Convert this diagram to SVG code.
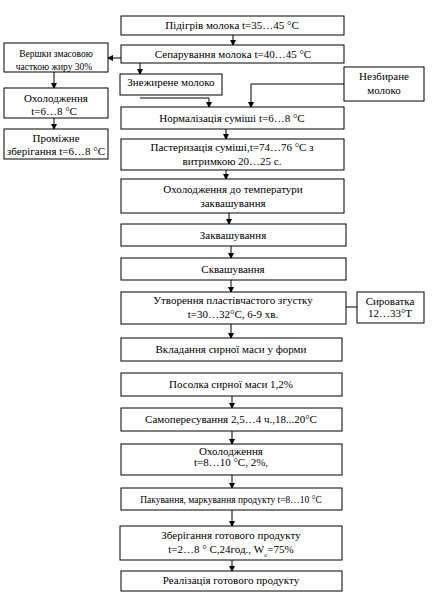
<svg xmlns="http://www.w3.org/2000/svg" width="432" height="596" viewBox="0 0 432 596">
<defs>
<marker id="ah" markerWidth="6" markerHeight="6" refX="5" refY="3" orient="auto" markerUnits="userSpaceOnUse">
<path d="M0,0 L6,3 L0,6 z" fill="#000"/>
</marker>
<style>
.b{fill:#fff;stroke:#000;stroke-width:1}
.t{font-size:11px;fill:#000;text-anchor:middle}
.s{font-size:9.5px}
.c{fill:none;stroke:#000;stroke-width:1}
.a{marker-end:url(#ah)}
</style>
</defs>
<rect width="432" height="596" fill="#fff"/>
<g id="connectors">
<path class="c a" d="M233,35 V45"/>
<path class="c a" d="M121,58 H108"/>
<path class="c a" d="M140,63 V74"/>
<path class="c a" d="M140,98 H209 V107"/>
<path class="c a" d="M344,84 H251 V107"/>
<path class="c a" d="M54,72 V88"/>
<path class="c a" d="M54,118 V129"/>
<path class="c a" d="M226,129 V139"/>
<path class="c a" d="M226,170 V179"/>
<path class="c a" d="M229,213 V224"/>
<path class="c a" d="M231,246 V258"/>
<path class="c a" d="M231,280 V292"/>
<path class="c" d="M346,307 H357"/>
<path class="c a" d="M231,324 V338"/>
<path class="c a" d="M232,396 V408"/>
<path class="c a" d="M232,431 V444"/>
<path class="c a" d="M232,475 V488"/>
<path class="c a" d="M232,510 V526"/>
<path class="c a" d="M232,560 V571"/>
</g>
<g font-family="Liberation Serif, DejaVu Serif, serif">
<g id="n1"><rect class="b" x="121" y="16" width="223" height="19"/><text class="t" x="232" y="29">Підігрів молока t=35…45 °C</text></g>
<g id="n2"><rect class="b" x="121" y="45" width="223" height="18"/><text class="t" x="233" y="58">Сепарування молока t=40…45 °C</text></g>
<g id="n3"><rect class="b" x="4" y="43" width="104" height="29"/><text class="t s" x="56" y="57">Вершки змасовою</text><text class="t s" x="54" y="70">часткою жиру 30%</text></g>
<g id="n4"><rect class="b" x="120" y="74" width="102" height="21"/><text class="t" x="171" y="86">Знежирене молоко</text></g>
<g id="n5"><rect class="b" x="344" y="67" width="80" height="34"/><text class="t" x="384" y="80">Незбиране</text><text class="t" x="384" y="94">молоко</text></g>
<g id="n6"><rect class="b" x="4" y="88" width="104" height="30"/><text class="t" x="56" y="102">Охолодження</text><text class="t" x="54" y="115">t=6…8 °C</text></g>
<g id="n7"><rect class="b" x="121" y="107" width="223" height="22"/><text class="t" x="232" y="122">Нормалізація суміші t=6…8 °C</text></g>
<g id="n8"><rect class="b" x="4" y="129" width="104" height="30"/><text class="t" x="56" y="142">Проміжне</text><text class="t" x="56" y="155">зберігання t=6…8 °C</text></g>
<g id="n9"><rect class="b" x="121" y="139" width="223" height="31"/><text class="t" x="232" y="151">Пастеризація суміші,t=74…76 °C з</text><text class="t" x="232" y="165">витримкою 20…25 с.</text></g>
<g id="n10"><rect class="b" x="121" y="179" width="223" height="34"/><text class="t" x="233" y="193">Охолодження до температури</text><text class="t" x="233" y="207">заквашування</text></g>
<g id="n11"><rect class="b" x="121" y="224" width="225" height="22"/><text class="t" x="233" y="239">Заквашування</text></g>
<g id="n12"><rect class="b" x="121" y="258" width="225" height="22"/><text class="t" x="233" y="273">Сквашування</text></g>
<g id="n13"><rect class="b" x="121" y="292" width="225" height="32"/><text class="t" x="233" y="304">Утворення пластівчастого згустку</text><text class="t" x="233" y="318">t=30…32°C, 6-9 хв.</text></g>
<g id="n14"><rect class="b" x="357" y="292" width="67" height="31"/><text class="t" x="390" y="305">Сироватка</text><text class="t" x="390" y="317">12…33°T</text></g>
<g id="n15"><rect class="b" x="121" y="338" width="221" height="23"/><text class="t" x="231" y="353">Вкладання сирної маси у форми</text></g>
<g id="n16"><rect class="b" x="121" y="373" width="221" height="23"/><text class="t" x="231" y="388">Посолка сирної маси 1,2%</text></g>
<g id="n17"><rect class="b" x="121" y="408" width="221" height="23"/><text class="t" x="231" y="423">Самопересування 2,5…4 ч.,18...20°C</text></g>
<g id="n18"><rect class="b" x="121" y="444" width="221" height="31"/><text class="t" x="231" y="455">Охолодження</text><text class="t" x="231" y="466">t=8…10  °C, 2%,</text></g>
<g id="n19"><rect class="b" x="121" y="488" width="221" height="22"/><text class="t s" x="231" y="503">Пакування, маркування продукту t=8…10 °C</text></g>
<g id="n20"><rect class="b" x="120" y="526" width="222" height="34"/><text class="t" x="231" y="539">Зберігання готового продукту</text><text class="t" x="231" y="553">t=2…8 ° C,24год., W<tspan baseline-shift="sub" font-size="7">с</tspan>=75%</text></g>
<g id="n21"><rect class="b" x="121" y="571" width="221" height="20"/><text class="t" x="231" y="584">Реалізація готового продукту</text></g>
</g>
</svg>
